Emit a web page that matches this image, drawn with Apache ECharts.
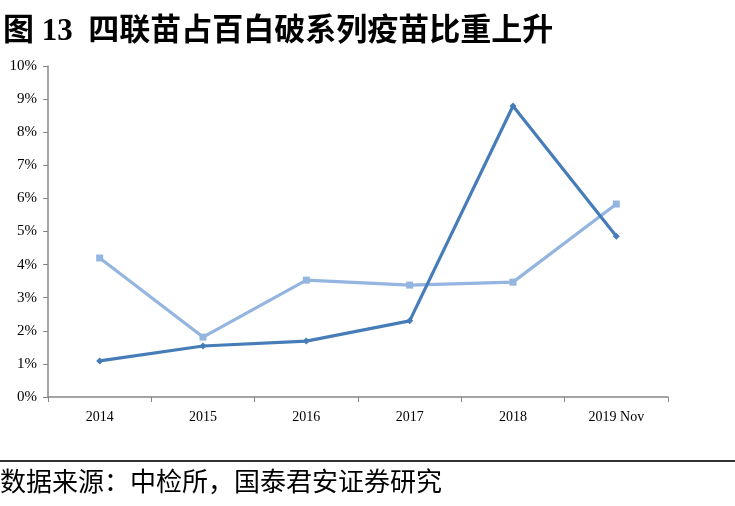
<!DOCTYPE html>
<html><head><meta charset="utf-8">
<script src="https://cdn.jsdelivr.net/npm/echarts@6/dist/echarts.min.js"></script>
<style>html,body{margin:0;padding:0;background:#fff}#c{width:735px;height:506px}</style>
</head><body><div id="c"></div>
<script>
const categories = ['2014', '2015', '2016', '2017', '2018', '2019 Nov'];
const seriesDark = [1.09, 1.54, 1.69, 2.30, 8.79, 4.86];
const seriesLight = [4.20, 1.81, 3.53, 3.38, 3.47, 5.83];
const yTicks = [0, 1, 2, 3, 4, 5, 6, 7, 8, 9, 10];
const titleText = '图 13  四联苗占百白破系列疫苗比重上升';
const sourceText = '数据来源：中检所，国泰君安证券研究';

const serif = '"Liberation Serif", "Times New Roman", "Noto Sans CJK SC", serif';
const chart = echarts.init(document.getElementById('c'));
chart.setOption({
  animation: false,
  backgroundColor: '#fff',
  title: {
    text: titleText, left: -2, top: 11,
    textStyle: { fontFamily: serif, fontWeight: 'bold', fontSize: 31, color: '#000' }
  },
  grid: { left: 48, right: 67, top: 66, bottom: 109 },
  xAxis: {
    type: 'category', data: categories, boundaryGap: true,
    axisLine: { lineStyle: { color: '#878787', width: 1.5 } },
    axisTick: { show: true, length: 5, lineStyle: { color: '#878787' } },
    axisLabel: { margin: 13, fontFamily: serif, fontSize: 14, color: '#000' }
  },
  yAxis: {
    type: 'value', min: yTicks[0], max: yTicks[yTicks.length - 1], interval: 1,
    axisLine: { show: true, lineStyle: { color: '#878787', width: 1.5 } },
    axisTick: { show: true, length: 5, lineStyle: { color: '#878787' } },
    splitLine: { show: false },
    axisLabel: { margin: 11, fontFamily: serif, fontSize: 15, color: '#000', formatter: v => v + '%' }
  },
  series: [
    {
      type: 'line', data: seriesLight, symbol: 'rect', symbolSize: 7,
      lineStyle: { color: '#93b5df', width: 3.2 }, itemStyle: { color: '#93b5df' }
    },
    {
      type: 'line', data: seriesDark, symbol: 'diamond', symbolSize: 7,
      lineStyle: { color: '#467db8', width: 3.2 }, itemStyle: { color: '#467db8' }
    }
  ],
  graphic: [
    { type: 'line', shape: { x1: 0, y1: 461, x2: 735, y2: 461 }, style: { stroke: '#333', lineWidth: 2 } },
    { type: 'text', left: 0, top: 468, style: { text: sourceText, font: '26px "Noto Sans CJK SC"', fill: '#000' } }
  ]
});
</script></body></html>
